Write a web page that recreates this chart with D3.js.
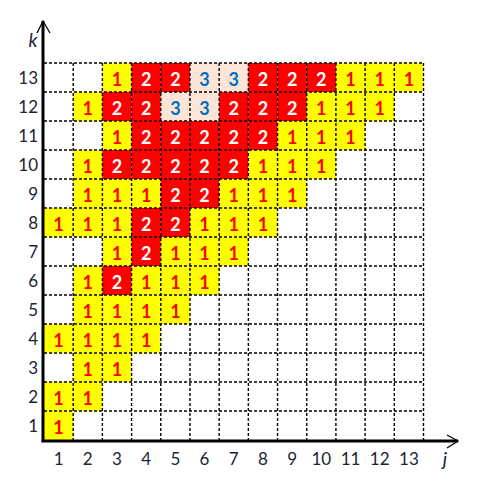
<!DOCTYPE html>
<html>
<head>
<meta charset="utf-8">
<script src="https://cdn.jsdelivr.net/npm/d3@7"></script>
<style>
  body { margin: 0; background: #fff; }
  text { font-family: Lato, "Open Sans", sans-serif; }
</style>
</head>
<body>
<div id="graph"></div>
<script>
// column indices j and row indices k
const jValues = d3.range(1, 14);
const kValues = d3.range(1, 14);

// cell values, one array per row k (listed from k = 13 down to k = 1), columns j = 1..13
const row13 = [0, 0, 1, 2, 2, 3, 3, 2, 2, 2, 1, 1, 1];
const row12 = [0, 1, 2, 2, 3, 3, 2, 2, 2, 1, 1, 1, 0];
const row11 = [0, 0, 1, 2, 2, 2, 2, 2, 1, 1, 1, 0, 0];
const row10 = [0, 1, 2, 2, 2, 2, 2, 1, 1, 1, 0, 0, 0];
const row9  = [0, 1, 1, 1, 2, 2, 1, 1, 1, 0, 0, 0, 0];
const row8  = [1, 1, 1, 2, 2, 1, 1, 1, 0, 0, 0, 0, 0];
const row7  = [0, 0, 1, 2, 1, 1, 1, 0, 0, 0, 0, 0, 0];
const row6  = [0, 1, 2, 1, 1, 1, 0, 0, 0, 0, 0, 0, 0];
const row5  = [0, 1, 1, 1, 1, 0, 0, 0, 0, 0, 0, 0, 0];
const row4  = [1, 1, 1, 1, 0, 0, 0, 0, 0, 0, 0, 0, 0];
const row3  = [0, 1, 1, 0, 0, 0, 0, 0, 0, 0, 0, 0, 0];
const row2  = [1, 1, 0, 0, 0, 0, 0, 0, 0, 0, 0, 0, 0];
const row1  = [1, 0, 0, 0, 0, 0, 0, 0, 0, 0, 0, 0, 0];

const rows = [row1, row2, row3, row4, row5, row6, row7, row8, row9, row10, row11, row12, row13];

// flatten into cells
const cells = [];
rows.forEach((r, i) => {
  r.forEach((v, c) => {
    if (v > 0) cells.push({j: jValues[c], k: kValues[i], v: v});
  });
});

const W = 492, H = 491;
const gLeft = 44, gRight = 423.5, gTop = 63, gBottom = 440;

const svg = d3.select("#graph")
  .append("svg")
    .attr("width", W)
    .attr("height", H);

const x = d3.scaleBand().domain(jValues).range([gLeft, gRight]).padding(0);
const y = d3.scaleBand().domain(kValues).range([gBottom, gTop]).padding(0);

const fill = d3.scaleOrdinal([1, 2, 3], ["#ffff00", "#ff0000", "#fce4d6"]);
const ink = d3.scaleOrdinal([1, 2, 3], ["#ff0000", "#ffffff", "#0070c0"]);

// coloured cells
svg.append("g")
  .selectAll("rect")
  .data(cells)
  .join("rect")
    .attr("x", d => x(d.j))
    .attr("y", d => y(d.k))
    .attr("width", x.bandwidth())
    .attr("height", y.bandwidth())
    .attr("fill", d => fill(d.v));

// dashed grid
const grid = svg.append("g")
  .attr("stroke", "#000")
  .attr("stroke-width", 1.4)
  .attr("stroke-dasharray", "3,2");

grid.selectAll("line.v")
  .data(jValues)
  .join("line")
    .attr("class", "v")
    .attr("x1", d => x(d) + x.bandwidth())
    .attr("x2", d => x(d) + x.bandwidth())
    .attr("y1", gTop)
    .attr("y2", gBottom);

grid.selectAll("line.h")
  .data(kValues)
  .join("line")
    .attr("class", "h")
    .attr("x1", gLeft)
    .attr("x2", gRight)
    .attr("y1", d => y(d))
    .attr("y2", d => y(d));

// cell numbers
svg.append("g")
  .selectAll("text")
  .data(cells)
  .join("text")
    .attr("x", d => x(d.j) + x.bandwidth() / 2)
    .attr("y", d => y(d.k) + y.bandwidth() / 2 + 1.5)
    .attr("text-anchor", "middle")
    .attr("dominant-baseline", "central")
    .attr("font-size", 18)
    .attr("font-weight", "bold")
    .attr("fill", d => ink(d.v))
    .text(d => d.v);

// axes lines
const axes = svg.append("g")
  .attr("stroke", "#000")
  .attr("fill", "none");

axes.append("line")
  .attr("x1", gLeft - 1).attr("x2", gLeft - 1)
  .attr("y1", gBottom + 1.5).attr("y2", 21)
  .attr("stroke-width", 3);
axes.append("path")
  .attr("d", `M${gLeft - 7},33 L${gLeft - 1},21 L${gLeft + 6},33`)
  .attr("stroke-width", 1.3);

axes.append("line")
  .attr("x1", gLeft - 2.5).attr("x2", 458)
  .attr("y1", gBottom + 1).attr("y2", gBottom + 1)
  .attr("stroke-width", 3);
axes.append("path")
  .attr("d", `M447,435 L458,${gBottom + 1} L447,448`)
  .attr("stroke-width", 1.3);

// tick labels
svg.append("g")
  .selectAll("text")
  .data(jValues)
  .join("text")
    .attr("x", d => x(d) + x.bandwidth() / 2)
    .attr("y", 465)
    .attr("text-anchor", "middle")
    .attr("font-size", 17)
    .attr("fill", "#1a2433")
    .text(d => d);

svg.append("g")
  .selectAll("text")
  .data(kValues)
  .join("text")
    .attr("x", 38)
    .attr("y", d => y(d) + y.bandwidth() / 2 + 6)
    .attr("text-anchor", "end")
    .attr("font-size", 17)
    .attr("fill", "#1a2433")
    .text(d => d);

// axis names
svg.append("text")
  .attr("x", 33).attr("y", 47)
  .attr("text-anchor", "middle")
  .attr("font-size", 19)
  .attr("font-style", "italic")
  .attr("fill", "#1a2433")
  .text("k");

svg.append("text")
  .attr("x", 445).attr("y", 466)
  .attr("text-anchor", "middle")
  .attr("font-size", 19)
  .attr("font-style", "italic")
  .attr("fill", "#1a2433")
  .text("j");
</script>
</body>
</html>
